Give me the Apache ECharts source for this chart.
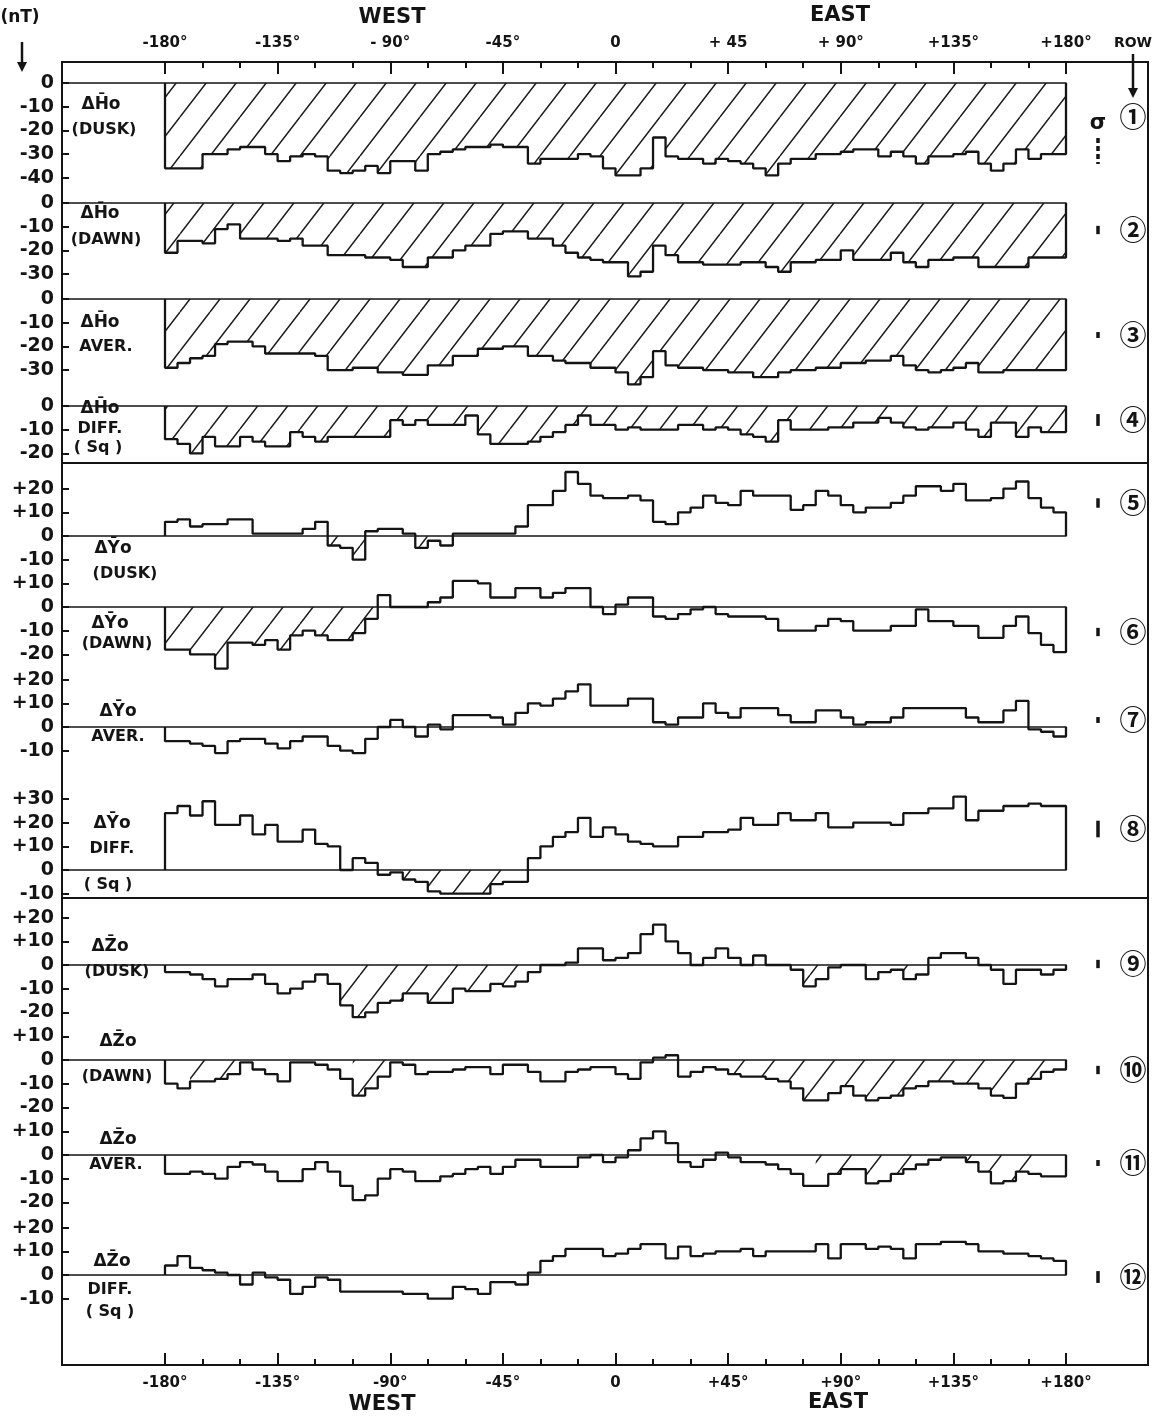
<!DOCTYPE html>
<html>
<head>
<meta charset="utf-8">
<title>Longitude profiles ΔH, ΔY, ΔZ</title>
<script src="https://cdn.jsdelivr.net/npm/echarts@6/dist/echarts.min.js"></script>
<style>
  html, body { margin: 0; padding: 0; background: #fff; }
  #chart { width: 1155px; height: 1420px; }
</style>
</head>
<body>
<div id="chart"></div>
<script>
// bin starts, 5 degree longitude bins
const lonBins = [
  -180, -175, -170, -165, -160, -155, -150, -145, -140, -135, -130, -125,
  -120, -115, -110, -105, -100, -95, -90, -85, -80, -75, -70, -65,
  -60, -55, -50, -45, -40, -35, -30, -25, -20, -15, -10, -5,
  0, 5, 10, 15, 20, 25, 30, 35, 40, 45, 50, 55,
  60, 65, 70, 75, 80, 85, 90, 95, 100, 105, 110, 115,
  120, 125, 130, 135, 140, 145, 150, 155, 160, 165, 170, 175
];

// nT values per bin
const dH_dusk = [
  -36, -36, -36, -30, -30, -28, -27, -27, -30, -33, -31, -30,
  -31, -37, -38, -37, -35, -38, -33, -33, -37, -30, -29, -28,
  -27, -27, -26, -27, -27, -34, -32, -32, -32, -30, -31, -36,
  -39, -39, -36, -23, -31, -32, -32, -34, -32, -33, -34, -36,
  -39, -34, -32, -32, -30, -30, -29, -28, -28, -31, -29, -31,
  -34, -31, -31, -30, -29, -34, -37, -34, -28, -32, -30, -30
];
const dH_dawn = [
  -21, -16, -16, -17, -11, -9, -15, -15, -15, -16, -15, -18,
  -18, -22, -22, -22, -23, -23, -24, -27, -27, -23, -23, -20,
  -18, -18, -13, -12, -12, -15, -15, -18, -21, -23, -24, -25,
  -25, -31, -29, -18, -22, -25, -25, -26, -26, -26, -25, -25,
  -27, -29, -25, -25, -24, -24, -20, -24, -24, -24, -21, -25,
  -27, -24, -24, -23, -23, -27, -27, -27, -27, -23, -23, -23
];
const dH_aver = [
  -29, -27, -25, -24, -19, -18, -18, -20, -23, -23, -23, -23,
  -24, -30, -30, -29, -29, -31, -31, -32, -32, -28, -28, -24,
  -24, -21, -21, -20, -20, -24, -24, -26, -27, -27, -29, -29,
  -31, -36, -33, -22, -28, -29, -29, -30, -30, -31, -31, -33,
  -33, -31, -30, -30, -29, -29, -27, -27, -26, -26, -24, -28,
  -30, -31, -30, -29, -27, -31, -31, -30, -30, -30, -30, -30
];
const dH_diff = [
  -14, -16, -20, -13, -17, -17, -13, -15, -17, -17, -11, -13,
  -15, -13, -13, -13, -13, -13, -6, -8, -6, -8, -8, -8,
  -4, -12, -16, -16, -16, -15, -13, -11, -8, -4, -8, -8,
  -10, -9, -10, -10, -10, -8, -8, -10, -9, -10, -12, -13,
  -15, -6, -10, -10, -10, -9, -9, -7, -7, -5, -7, -9,
  -10, -9, -9, -7, -10, -13, -7, -7, -13, -9, -11, -11
];
const dY_dusk = [
  6, 7, 4, 5, 5, 7, 7, 1, 1, 1, 1, 3,
  6, -4, -5, -10, 2, 3, 3, 1, -5, -2, -4, 1,
  1, 1, 1, 1, 4, 13, 13, 19, 27, 22, 17, 16,
  16, 17, 15, 6, 5, 10, 12, 17, 14, 13, 19, 17,
  17, 17, 11, 13, 19, 17, 13, 10, 12, 12, 14, 17,
  21, 21, 19, 22, 15, 15, 16, 20, 23, 16, 12, 10
];
const dY_dawn = [
  -18, -18, -20, -20, -26, -15, -15, -16, -14, -18, -12, -10,
  -12, -14, -14, -11, -5, 5, 0, 0, 0, 2, 4, 11,
  11, 10, 4, 4, 8, 8, 4, 6, 8, 8, 0, -3,
  1, 4, 4, -4, -5, -3, -1, 0, -3, -4, -4, -4,
  -5, -10, -10, -10, -8, -5, -6, -10, -10, -10, -8, -8,
  -1, -6, -6, -8, -8, -13, -13, -8, -4, -11, -16, -19
];
const dY_aver = [
  -6, -6, -7, -8, -11, -6, -5, -5, -7, -9, -6, -4,
  -4, -8, -10, -11, -5, 0, 3, 0, -4, 1, -1, 5,
  5, 5, 4, 1, 6, 10, 9, 12, 15, 18, 9, 9,
  9, 12, 12, 2, 1, 4, 4, 10, 6, 4, 8, 8,
  8, 5, 2, 2, 7, 7, 4, 1, 2, 2, 4, 8,
  8, 8, 8, 8, 4, 2, 2, 7, 11, -1, -2, -4
];
const dY_diff = [
  24, 27, 23, 29, 19, 19, 23, 15, 19, 12, 12, 17,
  11, 10, 0, 5, 3, -2, -1, -4, -5, -9, -10, -10,
  -10, -10, -6, -5, -5, 5, 10, 14, 16, 22, 14, 18,
  15, 12, 11, 10, 10, 14, 14, 16, 16, 17, 22, 19,
  19, 24, 21, 21, 24, 18, 18, 20, 20, 20, 19, 24,
  24, 26, 26, 31, 21, 25, 25, 27, 27, 28, 27, 27
];
const dZ_dusk = [
  -3, -3, -4, -6, -9, -6, -6, -4, -8, -12, -10, -7,
  -4, -8, -17, -22, -20, -16, -15, -12, -12, -16, -16, -10,
  -11, -11, -8, -9, -7, -3, 0, 0, 1, 7, 7, 2,
  3, 5, 13, 17, 10, 5, 0, 3, 7, 3, 0, 4,
  0, 0, -2, -9, -6, -1, 0, 0, -6, -3, -2, -6,
  -4, 3, 5, 5, 3, 0, -2, -8, -2, -2, -4, -2
];
const dZ_dawn = [
  -10, -12, -9, -9, -8, -6, -1, -4, -6, -9, -1, -1,
  -2, -4, -8, -15, -12, -7, -1, -2, -6, -5, -5, -4,
  -3, -3, -6, -2, -2, -5, -9, -9, -5, -4, -3, -3,
  -6, -8, -1, 1, 2, -7, -5, -3, -4, -6, -7, -7,
  -8, -9, -12, -17, -17, -14, -11, -15, -17, -16, -15, -12,
  -11, -9, -9, -10, -10, -12, -15, -16, -10, -8, -5, -4
];
const dZ_aver = [
  -8, -8, -7, -8, -10, -5, -3, -4, -7, -11, -11, -6,
  -3, -7, -13, -19, -17, -10, -6, -7, -11, -11, -9, -8,
  -6, -5, -8, -5, -2, -2, -5, -5, -5, -1, 0, -3,
  -1, 2, 7, 10, 5, -3, -5, -2, 1, -1, -3, -3,
  -4, -6, -8, -13, -13, -8, -6, -6, -12, -11, -8, -6,
  -4, -2, -1, -1, -3, -7, -12, -11, -7, -8, -9, -9
];
const dZ_diff = [
  4, 8, 3, 2, 1, 0, -4, 1, -1, -2, -8, -5,
  -1, -2, -7, -7, -7, -7, -7, -8, -8, -10, -10, -5,
  -6, -8, -3, -3, -4, 1, 6, 8, 11, 11, 11, 8,
  9, 11, 13, 13, 7, 12, 8, 9, 10, 10, 11, 8,
  10, 10, 10, 10, 13, 7, 13, 13, 11, 12, 11, 7,
  13, 13, 14, 14, 13, 10, 10, 9, 9, 8, 7, 6
];

const rows = [dH_dusk, dH_dawn, dH_aver, dH_diff, dY_dusk, dY_dawn, dY_aver, dY_diff,
              dZ_dusk, dZ_dawn, dZ_aver, dZ_diff];

// longitude spans that are hatched (negative part only)
const hatchSpans = [
  [[-180, 180]], [[-180, 180]], [[-180, 180]], [[-180, 180]],
  [[-120, -100], [-85, -75]],
  [[-180, -95]],
  [],
  [[-85, -40]],
  [[-110, -35], [75, 85], [110, 120]],
  [[-170, -150], [-105, -90], [45, 180]],
  [[80, 125], [140, 170]],
  []
];

// one sigma per row, nT
const sigma = [11, 3.5, 2.5, 5, 4, 3.5, 2.5, 7, 3.5, 3.5, 2.5, 5];

// tick labels
const yTicks = [
  [0, -10, -20, -30, -40], [0, -10, -20, -30], [0, -10, -20, -30], [0, -10, -20],
  [20, 10, 0, -10], [10, 0, -10, -20], [20, 10, 0, -10], [30, 20, 10, 0, -10],
  [20, 10, 0, -10, -20], [10, 0, -10, -20], [10, 0, -10, -20], [20, 10, 0, -10]
];
const topTickLabels = ['-180°', '-135°', '- 90°', '-45°', '0', '+ 45', '+ 90°', '+135°', '+180°'];
const bottomTickLabels = ['-180°', '-135°', '-90°', '-45°', '0', '+45°', '+90°', '+135°', '+180°'];

// ---- layout ----
const FONT = '"DejaVu Sans", sans-serif';
const INK = '#141414';
const PLOT_L = 165, PLOT_R = 1066, FRAME_L = 62, FRAME_R = 1148, FRAME_T = 62, FRAME_B = 1365;
const pxPerDeg = (PLOT_R - PLOT_L) / 360;
const xMin = -180 - (PLOT_L - FRAME_L) / pxPerDeg;
const k = 2.37; // px per nT
const zeroY = [83, 203, 299, 406, 536, 607, 727, 870, 965, 1060, 1155, 1275];
const yRange = [[-42, 2], [-32, 2], [-38, 2], [-22, 2], [-12, 30], [-28, 14], [-14, 20], [-12, 34],
                [-24, 20], [-20, 12], [-21, 12], [-12, 20]];

// diagonal hatching used for the shaded parts
function makeHatch() {
  const w = 30, h = 39;
  const c = document.createElement('canvas');
  c.width = w; c.height = h;
  const g = c.getContext('2d');
  g.strokeStyle = '#1c1c1c';
  g.lineWidth = 1.5;
  g.beginPath();
  [-w, 0, w].forEach(dx => { g.moveTo(dx, h); g.lineTo(dx + w, 0); });
  g.stroke();
  return c;
}
const hatch = { image: makeHatch(), repeat: 'repeat' };

const grids = [], xAxes = [], yAxes = [], series = [];

rows.forEach((vals, r) => {
  const [lo, hi] = yRange[r];
  grids.push({ left: FRAME_L, width: PLOT_R - FRAME_L, top: zeroY[r] - hi * k, height: (hi - lo) * k });
  xAxes.push({
    gridIndex: r, type: 'value', min: xMin, max: 180,
    axisLine: { show: true, onZero: true, lineStyle: { color: INK, width: 1.6 } },
    axisTick: { show: false }, axisLabel: { show: false }, splitLine: { show: false }
  });
  yAxes.push({
    gridIndex: r, type: 'value', min: lo, max: hi, position: 'left',
    axisLine: { show: false, onZero: false }, splitLine: { show: false },
    axisTick: { show: true, inside: true, length: 7, customValues: yTicks[r], lineStyle: { color: INK, width: 2 } },
    axisLabel: {
      customValues: yTicks[r], margin: 8, color: INK, fontFamily: FONT, fontWeight: 'bold', fontSize: 19,
      formatter: v => (v > 0 ? '+' + v : String(v))
    }
  });

  const pts = [[-180, 0]];
  lonBins.forEach((lon, i) => pts.push([lon, vals[i]]));
  pts.push([180, vals[vals.length - 1]], [180, 0]);
  series.push({
    type: 'line', xAxisIndex: r, yAxisIndex: r, data: pts, step: 'end',
    showSymbol: false, silent: true, z: 4,
    lineStyle: { color: INK, width: 2.3 }
  });

  hatchSpans[r].forEach(([a, b]) => {
    const hp = [[a, 0]];
    let last = 0;
    lonBins.forEach((lon, i) => {
      if (lon >= a && lon < b) { last = Math.min(vals[i], 0); hp.push([lon, last]); }
    });
    hp.push([b, last], [b, 0]);
    series.push({
      type: 'line', xAxisIndex: r, yAxisIndex: r, data: hp, step: 'end',
      showSymbol: false, silent: true, z: 2,
      lineStyle: { width: 0 }, areaStyle: { color: hatch, opacity: 1 }
    });
  });
});

// longitude axes (top and bottom), grid 12
grids.push({ left: PLOT_L, width: PLOT_R - PLOT_L, top: FRAME_T, height: FRAME_B - FRAME_T });
const lonAxis = (pos, labels) => ({
  gridIndex: 12, type: 'value', position: pos, min: -180, max: 180, interval: 45,
  axisLine: { show: false, onZero: false },
  axisTick: { show: true, inside: true, length: 12, lineStyle: { color: INK, width: 2 } },
  minorTick: { show: true, splitNumber: 3, length: 6, lineStyle: { color: INK, width: 2 } },
  splitLine: { show: false }, minorSplitLine: { show: false },
  axisLabel: {
    margin: 11, color: INK, fontFamily: FONT, fontWeight: 'bold', fontSize: 15,
    formatter: v => labels[Math.round((v + 180) / 45)]
  }
});
xAxes.push(lonAxis('top', topTickLabels), lonAxis('bottom', bottomTickLabels));
yAxes.push({ gridIndex: 12, type: 'value', show: false, min: 0, max: 1, axisLine: { onZero: false } });

// outer frame, grid 13
grids.push({ left: FRAME_L, width: FRAME_R - FRAME_L, top: FRAME_T, height: FRAME_B - FRAME_T,
             show: true, borderColor: INK, borderWidth: 2, backgroundColor: 'transparent' });
xAxes.push({ gridIndex: 13, type: 'value', show: false, axisLine: { onZero: false } });
yAxes.push({ gridIndex: 13, type: 'value', show: false, axisLine: { onZero: false } });

// ---- texts and small marks ----
function txt(text, x, y, size, extra) {
  return {
    type: 'text', x, y, z: 10,
    style: Object.assign({
      text, fontSize: size, fontFamily: FONT, fontWeight: 'bold', fill: INK,
      align: 'center', verticalAlign: 'middle', textAlign: 'center', textVerticalAlign: 'middle'
    }, extra || {})
  };
}
function seg(x1, y1, x2, y2, w, dash) {
  return { type: 'line', z: 10, shape: { x1, y1, x2, y2 },
           style: { stroke: INK, lineWidth: w || 2, lineDash: dash || null } };
}
function arrowHead(x, y) {
  return { type: 'polygon', z: 10, shape: { points: [[x - 5, y - 10], [x + 5, y - 10], [x, y]] }, style: { fill: INK } };
}

const H = 'ΔH\u0304o', Y = 'ΔȲo', Z = 'ΔZ\u0304o';
const rowText = [
  [H, 101, 105], ['(DUSK)', 104, 130],
  [H, 100, 214], ['(DAWN)', 106, 240],
  [H, 100, 323], ['AVER.', 106, 347],
  [H, 100, 409], ['DIFF.', 100, 429], ['( Sq )', 98, 448],
  [Y, 113, 549], ['(DUSK)', 125, 574],
  [Y, 110, 624], ['(DAWN)', 117, 644],
  [Y, 118, 712], ['AVER.', 118, 737],
  [Y, 112, 824], ['DIFF.', 112, 849], ['( Sq )', 108, 885],
  [Z, 110, 947], ['(DUSK)', 117, 972],
  [Z, 118, 1042], ['(DAWN)', 117, 1077],
  [Z, 118, 1140], ['AVER.', 116, 1165],
  [Z, 112, 1262], ['DIFF.', 110, 1290], ['( Sq )', 110, 1312]
];
const circles = ['①', '②', '③', '④', '⑤', '⑥', '⑦', '⑧', '⑨', '⑩', '⑪', '⑫'];
const circleY = [117, 230, 335, 420, 503, 632, 720, 829, 964, 1070, 1163, 1277];

const elements = [
  txt('(nT)', 20, 18, 17),
  seg(22, 42, 22, 62, 2.5), arrowHead(22, 72),
  txt('WEST', 392, 18, 21),
  txt('EAST', 840, 16, 21),
  txt('WEST', 382, 1405, 21),
  txt('EAST', 838, 1403, 21),
  txt('ROW', 1133, 43, 14),
  seg(1133, 54, 1133, 88, 2.5), arrowHead(1133, 98),
  txt('σ', 1098, 124, 21),
  seg(FRAME_L, 463, FRAME_R, 463, 2),
  seg(FRAME_L, 898, FRAME_R, 898, 2)
];
rowText.forEach(([t, x, y]) => elements.push(txt(t, x, y, 16, t.startsWith('Δ') ? { fontSize: 17 } : null)));
circles.forEach((c, r) => {
  elements.push(txt(c, 1133, circleY[r], 27, { fontFamily: '"Noto Sans CJK JP", "DejaVu Sans"', fontWeight: 'bold' }));
  const half = sigma[r] * k / 2;
  if (r === 0) elements.push(seg(1098, 138, 1098, 138 + 2 * half, 3.5, [5, 3]));
  else elements.push(seg(1098, circleY[r] - half, 1098, circleY[r] + half, 3.5));
});

const chart = echarts.init(document.getElementById('chart'));
chart.setOption({
  animation: false,
  backgroundColor: '#fff',
  grid: grids,
  xAxis: xAxes,
  yAxis: yAxes,
  series,
  graphic: { elements }
});
window.addEventListener('resize', () => chart.resize());
</script>
</body>
</html>
